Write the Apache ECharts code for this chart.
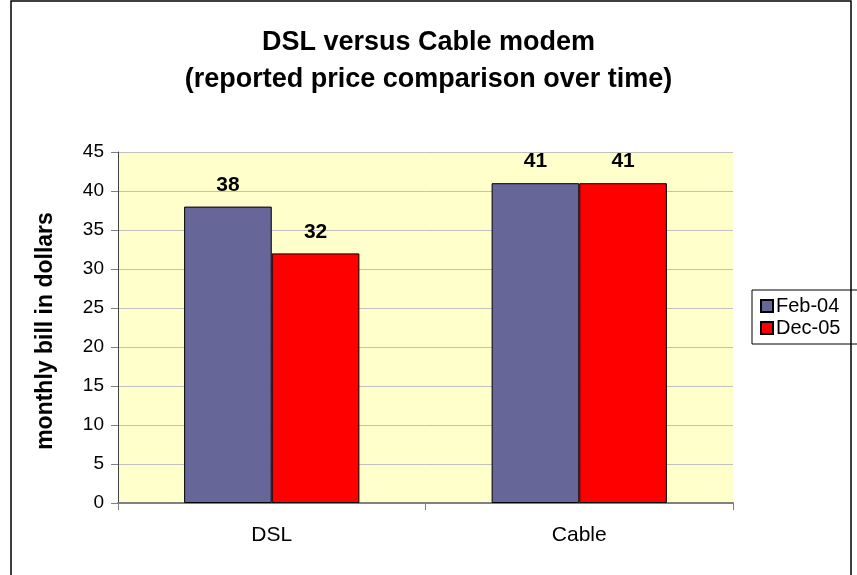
<!DOCTYPE html>
<html>
<head>
<meta charset="utf-8">
<script src="https://cdn.jsdelivr.net/npm/echarts@6/dist/echarts.min.js"></script>
<style>
html,body{margin:0;padding:0;background:#fff;}
#c{width:857px;height:575px;}
</style>
</head>
<body>
<div id="c"></div>
<script>
const titleLines = ['DSL versus Cable modem', '(reported price comparison over time)'];
const yAxisTitle = 'monthly bill in dollars';
const categories = ['DSL', 'Cable'];
const seriesNames = ['Feb-04', 'Dec-05'];
const feb04 = [38, 41];
const dec05 = [32, 41];
const yMin = 0, yMax = 45, yStep = 5;

const FONT = 'Liberation Sans, Arial, sans-serif';
const chart = echarts.init(document.getElementById('c'), null, {renderer: 'canvas'});
const colors = ['#666699', '#FF0000'];
const values = [feb04, dec05];

chart.setOption({
  animation: false,
  backgroundColor: '#fff',
  title: {
    text: titleLines.join('\n'),
    left: 'center',
    top: 19,
    textStyle: {fontFamily: FONT, fontWeight: 'bold', fontSize: 27, color: '#000', lineHeight: 37}
  },
  legend: {
    orient: 'vertical',
    left: 752,
    top: 290,
    padding: [6, 40, 6, 8],
    itemGap: 2,
    itemWidth: 12,
    itemHeight: 12,
    icon: 'rect',
    borderColor: '#000',
    borderWidth: 1,
    borderRadius: 0,
    textStyle: {fontFamily: FONT, fontSize: 20, color: '#000', padding: [0,0,0,-2]},
    data: seriesNames
  },
  grid: {
    left: 118, top: 152, right: 124, bottom: 72,
    show: true, backgroundColor: '#FFFFCC', borderWidth: 0
  },
  xAxis: {
    type: 'category',
    data: categories,
    axisLine: {lineStyle: {color: '#808080', width: 2}},
    axisTick: {show: true, length: 7, lineStyle: {color: '#808080'}},
    axisLabel: {fontFamily: FONT, fontSize: 21, color: '#000', margin: 22}
  },
  yAxis: {
    type: 'value',
    min: yMin, max: yMax, interval: yStep,
    axisLine: {show: true, lineStyle: {color: '#404040', width: 1}},
    axisTick: {show: true, length: 7, lineStyle: {color: '#808080'}},
    axisLabel: {fontFamily: FONT, fontSize: 19, color: '#000', margin: 14},
    splitLine: {show: true, lineStyle: {color: '#C0C0C0', width: 1}}
  },
  series: seriesNames.map((name, i) => ({
    name: name,
    type: 'bar',
    data: values[i],
    barGap: '0%',
    barCategoryGap: '43%',
    itemStyle: {color: colors[i], borderColor: '#000', borderWidth: 1},
    label: {
      show: true, position: 'top', distance: 11,
      fontFamily: FONT, fontWeight: 'bold', fontSize: 21, color: '#000'
    }
  })),
  graphic: [
    {
      type: 'rect',
      shape: {x: 11, y: 1, width: 840, height: 620},
      style: {fill: 'none', stroke: '#000', lineWidth: 1.5},
      silent: true
    },
    {
      type: 'text',
      x: 46, y: 331,
      rotation: Math.PI / 2,
      style: {
        text: yAxisTitle,
        fontFamily: FONT, fontWeight: 'bold', fontSize: 23,
        fill: '#000', align: 'center', verticalAlign: 'middle'
      }
    }
  ]
});
</script>
</body>
</html>
